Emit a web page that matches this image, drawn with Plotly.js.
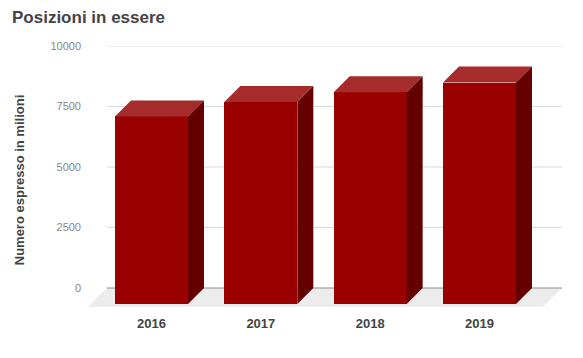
<!DOCTYPE html>
<html>
<head>
<meta charset="utf-8">
<script src="https://cdn.plot.ly/plotly-3.0.1.min.js"></script>
<style>html,body{margin:0;padding:0;background:#fff;}#chart{width:583px;height:358px;}</style>
</head>
<body>
<div id="chart"></div>
<script>
// ---- data ----
const years = ['2016', '2017', '2018', '2019'];
const values = [7750, 8350, 8750, 9150];
const yTicks = [0, 2500, 5000, 7500, 10000];
const chartTitle = 'Posizioni in essere';
const yTitle = 'Numero espresso in milioni';

// ---- geometry (pixels) ----
const W = 583, H = 358;
const L = 82, R = 10, T = 46, B = 44;
const pxPerUnitY = 242 / 10000;      // pixels per value unit
const pxPerCat = 109.33;             // pixels per category step
const zeroPx = 288;                  // pixel row of the back-plane zero line
const firstCatPx = 151.5;            // pixel column of first category (front face centre)
const depthPx = 16;                  // 3D depth offset
const barPx = 73;                    // front face width

const plotH = H - T - B, plotW = W - L - R;
const yMax = (zeroPx - T) / pxPerUnitY;
const yMin = yMax - plotH / pxPerUnitY;
const xMin = -(firstCatPx - L) / pxPerCat;
const xMax = xMin + plotW / pxPerCat;
const px2x = p => xMin + (p - L) / pxPerCat;
const dX = depthPx / pxPerCat;
const dY = depthPx / pxPerUnitY;
const hw = (barPx / pxPerCat) / 2;

const xs = years.map((_, i) => i);

const traces = [];
// front faces
traces.push({
  type: 'bar', x: xs, y: values, base: xs.map(() => -dY), width: 2 * hw,
  marker: {color: '#990000', line: {width: 0}}, hoverinfo: 'skip', showlegend: false
});
// top and side faces
values.forEach((v, i) => {
  traces.push({
    type: 'scatter', mode: 'lines', fill: 'toself', fillcolor: '#a62b2b',
    line: {width: 0, color: '#a62b2b'}, hoverinfo: 'skip', showlegend: false,
    x: [i - hw, i + hw, i + hw + dX, i - hw + dX, i - hw],
    y: [v - dY, v - dY, v, v, v - dY]
  });
  traces.push({
    type: 'scatter', mode: 'lines', fill: 'toself', fillcolor: '#640000',
    line: {width: 0, color: '#640000'}, hoverinfo: 'skip', showlegend: false,
    x: [i + hw, i + hw + dX, i + hw + dX, i + hw, i + hw],
    y: [v - dY, v, 0, -dY, v - dY]
  });
});

// floor + gridlines as background shapes
const gx0 = px2x(107), gx1 = px2x(562);
const floorDepth = 19;
const shapes = [{
  type: 'path', layer: 'below', xref: 'x', yref: 'y',
  path: `M ${gx0} 0 L ${gx1} 0 L ${px2x(562 - floorDepth)} ${-floorDepth / pxPerUnitY} L ${px2x(107 - floorDepth)} ${-floorDepth / pxPerUnitY} Z`,
  fillcolor: '#ececec', line: {width: 0}
}];
yTicks.forEach(t => {
  shapes.push({
    type: 'line', layer: 'below', xref: 'x', yref: 'y',
    x0: gx0, x1: gx1, y0: t, y1: t,
    line: {color: t === 0 ? '#8c8c8c' : '#d9d9d9', width: 1}
  });
});

const layout = {
  width: W, height: H,
  margin: {l: L, r: R, t: T, b: B, pad: 0},
  paper_bgcolor: '#ffffff', plot_bgcolor: 'rgba(0,0,0,0)',
  font: {family: 'Liberation Sans, Arial, sans-serif'},
  title: {
    text: '<b>' + chartTitle + '</b>', xref: 'container', yref: 'container',
    x: 12 / W, xanchor: 'left', y: 1 - 17 / H, yanchor: 'middle',
    font: {size: 17, color: '#444444'}
  },
  xaxis: {
    range: [xMin, xMax], tickvals: xs, ticktext: years.map(y => '<b>' + y + '</b>'),
    showgrid: false, zeroline: false, showline: false, ticks: '',
    tickfont: {size: 13, color: '#444444'}, fixedrange: true
  },
  yaxis: {
    range: [yMin, yMax], tickvals: yTicks, tickformat: 'd',
    showgrid: false, zeroline: false, showline: false, ticks: '',
    tickfont: {size: 11, color: '#888888'}, fixedrange: true,
    title: {text: '<b>' + yTitle + '</b>', font: {size: 13, color: '#444444'}, standoff: 22}
  },
  shapes: shapes,
  showlegend: false,
  bargap: 0
};

Plotly.newPlot('chart', traces, layout, {displayModeBar: false, staticPlot: true});
</script>
</body>
</html>
